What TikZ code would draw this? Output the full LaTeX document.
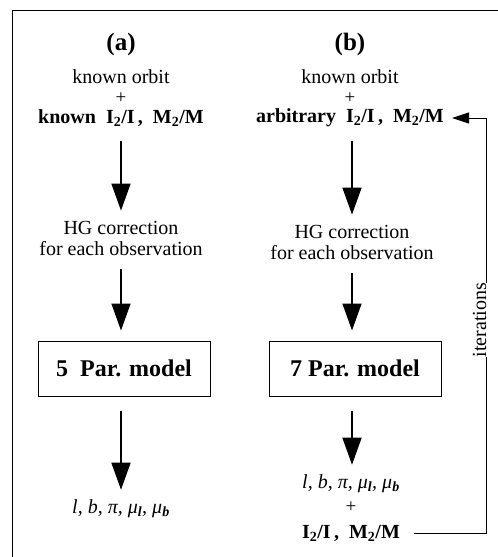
\documentclass[tikz,border=0pt]{standalone}
\usepackage{fontspec}
\setmainfont{Liberation Serif}
\usetikzlibrary{arrows.meta,positioning}

\begin{document}
\begin{tikzpicture}[x = 1pt, y = -1pt,
        txt/.style={font=\fontsize{20}{21}\selectfont, align=center, inner sep=0pt},
        bold/.style={txt, font=\fontsize{20}{21}\selectfont\bfseries},
        head/.style={txt, font=\fontsize{25}{26}\selectfont\bfseries},
        plus/.style={txt, font=\fontsize{19}{20}\selectfont},
        model/.style={draw, line width=1pt, minimum width=172pt, minimum height=55pt,
            font=\fontsize{24}{26}\selectfont\bfseries},
        flow/.style={line width=1.6pt, -{Triangle[length=27pt,width=19pt]}},
        loop/.style={line width=1pt}]
    \useasboundingbox (0,0) rectangle (498,557);
    % frame
    \draw[loop] (12,557) -- (12,10) -- (498,10);
    \coordinate (colA) at (121,0);
    \coordinate (colB) at (352,0);

    % left column: fixed masses
    \node[head] (capA) at (121,44) {(a)};
    \node[txt] (orbA) at (121,77) {known orbit};
    \node[plus] (plusA) at (121,98) {+};
    \node[bold] (knA) at (121,118) {known\ \ I\textsubscript{2}/I\,,\ \ M\textsubscript{2}/M};
    \node[txt] (hgA) at (121,238) {HG correction\\for each observation};
    \node[model] (boxA) at (124,368.5) {5\ \ Par. model};
    \node[txt] (resA) at (121,509) {\itshape l, b, π, μ\textsubscript{\bfseries l}, μ\textsubscript{\bfseries b}};

    % right column: masses fitted
    \node[head] (capB) at (350,44) {(b)};
    \node[txt] (orbB) at (350,77) {known orbit};
    \node[plus] (plusB) at (350,98) {+};
    \node[bold] (knB) at (350,118) {arbitrary\ \ I\textsubscript{2}/I\,,\ \ M\textsubscript{2}/M};
    \node[txt] (hgB) at (352,242) {HG correction\\for each observation};
    \node[model] (boxB) at (355,368.5) {7 Par. model};
    \node[txt] (resB) at (351,484) {\itshape l, b, π, μ\textsubscript{\bfseries l}, μ\textsubscript{\bfseries b}};
    \node[plus] (plusC) at (351,507) {+};
    \node[bold] (resM) at (351,533) {I\textsubscript{2}/I\,,\ \ M\textsubscript{2}/M};

    \node[txt, rotate=90, anchor=base] (iter) at (486,320) {iterations};
    \coordinate (loopT) at (486,118);
    \coordinate (loopB) at (486,533);

    % downward arrows
    \foreach \a/\b/\c in {knA/hgA/colA, hgA/boxA/colA, boxA/resA/colA,
                          knB/hgB/colB, hgB/boxB/colB, boxB/resB/colB}
        \draw[flow, shorten <=14pt, shorten >=10pt] (\a.south -| \c) -- (\b.north -| \c);

    % iteration loop
    \draw[loop] ([xshift=14pt]resM.east) -- (loopB) -- (loopB |- iter.west);
    \draw[loop, -{Triangle[length=17pt,width=11pt]}, shorten >=8pt]
        (loopT |- iter.east) -- (loopT) -- (knB.east);
\end{tikzpicture}
\end{document}
